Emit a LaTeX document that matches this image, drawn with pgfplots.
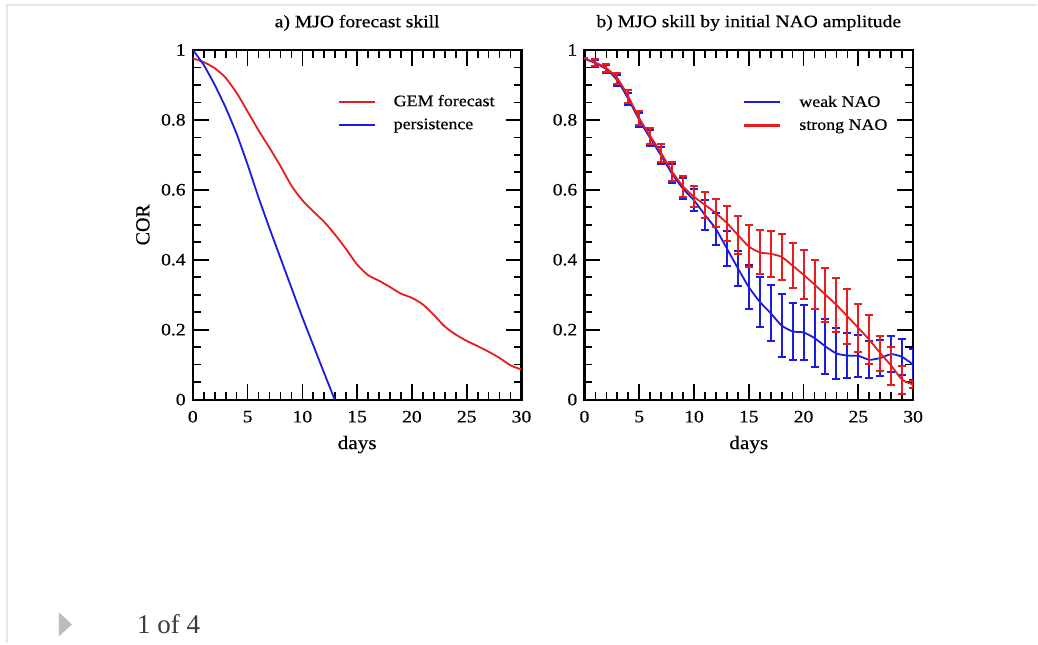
\documentclass[border=0pt]{standalone}
\usepackage{fontspec}
\setmainfont{Liberation Serif}[FakeStretch=1.12, FakeBold=0.5]
\newfontfamily\plainserif{Liberation Serif}
\newfontfamily\labelserif{Liberation Serif}[FakeBold=0.5]
\usepackage{pgfplots}
\pgfplotsset{compat=1.18}
\usepackage{pgfplotstable}

\definecolor{curvered}{RGB}{232,28,28}
\definecolor{curveblue}{RGB}{28,28,222}
\definecolor{framegray}{RGB}{230,230,230}
\definecolor{navgray}{RGB}{188,188,188}
\definecolor{pagetext}{RGB}{60,60,60}

% a) GEM forecast skill (COR) by lead day
\pgfplotstableread{
d v
0 0.976
1 0.965
2 0.948
3 0.920
4 0.877
5 0.824
6 0.770
7 0.720
8 0.668
9 0.612
10 0.570
11 0.538
12 0.508
13 0.471
14 0.430
15 0.386
16 0.356
17 0.340
18 0.322
19 0.303
20 0.291
21 0.272
22 0.242
23 0.209
24 0.186
25 0.168
26 0.153
27 0.137
28 0.119
29 0.098
30 0.086
}\gemskill

% a) persistence skill
\pgfplotstableread{
d v
0 1.000
1 0.957
2 0.900
3 0.835
4 0.760
5 0.672
6 0.578
7 0.490
8 0.405
9 0.320
10 0.235
11 0.155
12 0.075
12.95 0.000
}\persist

% b) skill for weak initial NAO, with error half-width
\pgfplotstableread{
d v e
0 0.975 0
1 0.962 0.010
2 0.945 0.012
3 0.913 0.015
4 0.860 0.018
5 0.800 0.020
6 0.748 0.022
7 0.698 0.025
8 0.646 0.027
9 0.603 0.030
10 0.570 0.032
11 0.528 0.043
12 0.488 0.045
13 0.432 0.049
14 0.376 0.050
15 0.322 0.062
16 0.280 0.072
17 0.247 0.080
18 0.212 0.089
19 0.195 0.082
20 0.192 0.080
21 0.176 0.083
22 0.152 0.079
23 0.132 0.074
24 0.126 0.065
25 0.125 0.060
26 0.114 0.053
27 0.119 0.051
28 0.130 0.051
29 0.122 0.052
30 0.100 0.045
}\weaknao

% b) skill for strong initial NAO, with error half-width
\pgfplotstableread{
d v e
0 0.976 0
1 0.964 0.010
2 0.948 0.012
3 0.919 0.015
4 0.867 0.018
5 0.805 0.020
6 0.754 0.022
7 0.705 0.025
8 0.652 0.027
9 0.610 0.030
10 0.580 0.030
11 0.557 0.037
12 0.533 0.040
13 0.505 0.050
14 0.471 0.055
15 0.438 0.060
16 0.421 0.063
17 0.417 0.065
18 0.408 0.067
19 0.383 0.065
20 0.357 0.070
21 0.329 0.069
22 0.300 0.077
23 0.271 0.078
24 0.238 0.078
25 0.205 0.069
26 0.171 0.070
27 0.133 0.050
28 0.097 0.054
29 0.057 0.040
30 0.043 0.010
}\strongnao

\pgfplotsset{
  skillaxis/.style={
    scale only axis, width=329pt, height=350pt,
    xmin=0, xmax=30, ymin=0, ymax=1,
    xtick={0,5,...,30}, ytick={0,0.2,0.4,0.6,0.8,1},
    minor x tick num=4, minor y tick num=3,
    tick align=inside, major tick length=16pt, minor tick length=8pt,
    every tick/.style={black, line width=1.7pt},
    axis line style={line width=2.2pt},
    /pgf/number format/assume math mode=true,
    tick label style={font=\fontsize{17.5}{17.5}\selectfont, inner sep=0pt},
    yticklabel style={xshift=-7pt},
    xticklabel style={yshift=-11pt},
    title style={font=\fontsize{17.5}{17.5}\selectfont, at={(0.5,1)}, anchor=center, yshift=21pt},
    xlabel style={font=\fontsize{19}{19}\selectfont, at={(0.5,0)}, anchor=center, yshift=-45pt},
    legend style={draw=none, fill=none, inner sep=0pt, anchor=north west,
      font=\fontsize{16}{16}\selectfont, row sep=8pt,
      nodes={inner sep=0pt, text height=12pt, text depth=3pt},
      /tikz/every odd column/.append style={column sep=18pt}},
    legend cell align=left,
    legend image code/.code={\draw[##1] (0pt,0pt) -- (36pt,0pt);},
    every error bar/.append style={line width=2pt},
  }
}

\begin{document}
\begin{tikzpicture}[x=1pt,y=1pt]
  % page background and viewer chrome
  \fill[white] (0,0) rectangle (1038,644);
  \draw[framegray, line width=2pt] (7,0) -- (7,639) -- (1038,639);
  \fill[navgray] (59,31) -- (59,7) -- (72,19) -- cycle;
  \node[font=\plainserif\fontsize{27}{27}\selectfont, text=pagetext, anchor=west, inner sep=0pt]
    at (137,19) {1 of 4};

  % a) forecast skill vs persistence
  \begin{axis}[skillaxis, at={(193pt,244pt)}, anchor=south west,
      title={a) MJO forecast skill}, xlabel={days},
      legend style={at={(0.441,0.874)}}]
    \addplot[curvered, line width=1.8pt, smooth, tension=0.45] table[x=d,y=v]{\gemskill};
    \addlegendentry{GEM forecast}
    \addplot[curveblue, line width=1.8pt, smooth, tension=0.3] table[x=d,y=v]{\persist};
    \addlegendentry{persistence}
  \end{axis}
  \node[font=\labelserif\fontsize{20}{20}\selectfont, rotate=90] at (143,419) {COR};

  % b) skill split by initial NAO amplitude
  \begin{axis}[skillaxis, at={(585pt,244pt)}, anchor=south west,
      title={b) MJO skill by initial NAO amplitude}, xlabel={days},
      legend style={at={(0.480,0.872)}}]
    \addlegendimage{curveblue, line width=2pt}
    \addlegendentry{weak NAO}
    \addlegendimage{curvered, line width=3pt}
    \addlegendentry{strong NAO}
    \addplot[curveblue, line width=1.8pt, smooth, tension=0.4, forget plot,
      error bars/.cd, y dir=both, y explicit,
      error bar style={line width=2pt, curveblue},
      error mark options={rotate=90, mark size=4pt, line width=2pt, curveblue}]
      table[x=d, y=v, y error=e]{\weaknao};
    \addplot[curvered, line width=1.8pt, smooth, tension=0.4, forget plot,
      error bars/.cd, y dir=both, y explicit,
      error bar style={line width=2pt, curvered},
      error mark options={rotate=90, mark size=4pt, line width=2pt, curvered}]
      table[x=d, y=v, y error=e]{\strongnao};
  \end{axis}
\end{tikzpicture}
\end{document}
